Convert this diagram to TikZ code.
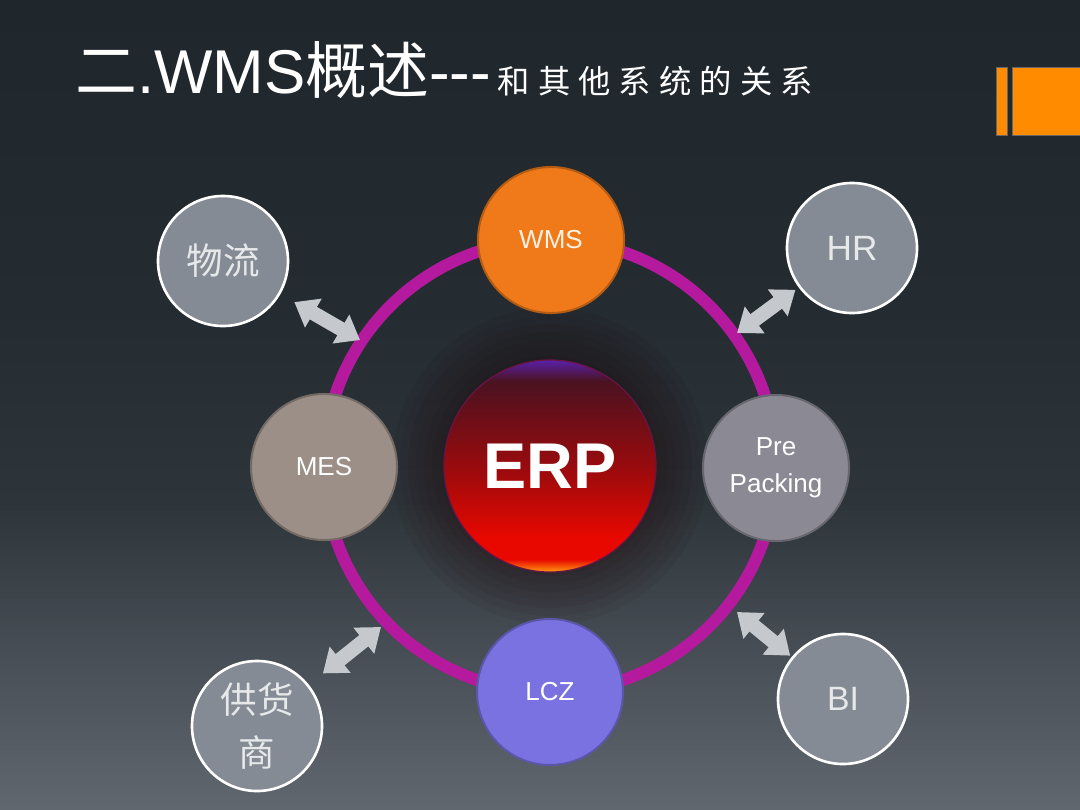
\documentclass[tikz,border=0pt]{standalone}
\usepackage{fontspec}
\setmainfont{Liberation Sans}
\newfontfamily\cjk{Noto Sans CJK SC}
\usepackage{tikz}
\usetikzlibrary{arrows.meta, calc}
\usepackage{xcolor}

\definecolor{bgtop}{HTML}{1F262C}
\definecolor{bgdark}{HTML}{242B31}
\definecolor{bgmid}{HTML}{2D343A}
\definecolor{bglow}{HTML}{464D54}
\definecolor{bgbot}{HTML}{60676E}
\definecolor{erporange}{HTML}{FF9A10}
\definecolor{erpred}{HTML}{E80800}
\definecolor{erpmid}{HTML}{A00A0C}
\definecolor{erpdark}{HTML}{4A1220}
\definecolor{erppurple}{HTML}{5A20A8}
\definecolor{ringmag}{HTML}{B51A9E}
\definecolor{wmsorange}{HTML}{F07A1A}
\definecolor{lczblue}{HTML}{7A72E0}
\definecolor{mestaupe}{HTML}{9C8F87}
\definecolor{pregray}{HTML}{8B8A94}
\definecolor{outerfill}{HTML}{848B94}
\definecolor{outertext}{HTML}{E6E8EA}
\definecolor{arrowgray}{HTML}{C5C9CD}
\definecolor{barorange}{HTML}{FF8C00}

\pgfdeclareverticalshading{slidebg}{100bp}{color(0bp)=(bgbot); color(25bp)=(bgbot);
  color(35bp)=(bglow); color(44bp)=(bgmid); color(56bp)=(bgdark); color(75bp)=(bgtop); color(100bp)=(bgtop)}
\pgfdeclareverticalshading{erpball}{100bp}{color(0bp)=(erporange); color(25bp)=(erporange);
  color(28bp)=(erpred); color(33bp)=(erpred); color(48bp)=(erpmid); color(70bp)=(erpdark);
  color(75bp)=(erppurple); color(100bp)=(erppurple)}

\tikzset{
  hub/.style={circle, minimum size=3.65cm, inner sep=0pt, align=center,
    font=\fontsize{18.5}{26}\selectfont, line width=0.05cm},
  outer/.style={circle, minimum size=3.25cm, inner sep=0pt, align=center,
    fill=outerfill, draw=white, line width=0.065cm, text=outertext},
  linkarrow/.style={{Triangle[width=0.8cm,length=0.55cm]}-{Triangle[width=0.8cm,length=0.55cm]},
    line width=0.36cm, draw=arrowgray}
}

\begin{document}
\begin{tikzpicture}[x=0.025cm, y=0.025cm]
  % slide background
  \shade[shading=slidebg] (0,0) rectangle (1080,-810);
  \useasboundingbox (0,0) rectangle (1080,-810);
  \fill[barorange, draw=black!60] (996,-67) rectangle (1007,-135);
  \fill[barorange, draw=black!60] (1012,-67) rectangle (1082,-135);

  % title
  \node[anchor=base west, inner sep=0pt, text=white, font=\fontsize{44}{44}\selectfont]
    (title) at (75,-93) {{\cjk 二}.WMS{\cjk 概述}\hbox{-}\hbox{-}\hbox{-}};
  \node[anchor=base west, inner sep=0pt, text=white,
    font=\cjk\fontsize{23}{23}\selectfont\addfontfeature{LetterSpace=25}]
    (subtitle) at ([xshift=0.15cm]title.base east) {和其他系统的关系};

  % hub and ring
  \coordinate (hubc) at (550,-466);
  \foreach \r in {2.75,2.95,...,4.0}
    \fill[black!60!red!30!black, opacity=0.05] (hubc) circle (\r cm);
  \draw[ringmag, line width=0.3cm] (hubc) circle (5.65cm);
  \node[circle, minimum size=5.3cm, inner sep=0pt, shading=erpball, draw=erpdark!70!ringmag,
    line width=0.03cm, text=white, font=\bfseries\fontsize{46}{46}\selectfont] (erp) at (hubc) {ERP};

  \node[hub, fill=wmsorange, draw=wmsorange!75!black, text=white!90!orange] (wms) at (551,-240) {WMS};
  \node[hub, fill=lczblue, draw=lczblue!75!black, text=white] (lcz) at (550,-692) {LCZ};
  \node[hub, fill=mestaupe, draw=mestaupe!75!black, text=white] (mes) at (324,-467) {MES};
  \node[hub, fill=pregray, draw=pregray!75!black, text=white] (pre) at (776,-468) {Pre\\Packing};

  % outer systems
  \node[outer, font=\cjk\fontsize{26}{27}\selectfont] (wl) at (223,-261) {物流};
  \node[outer, font=\fontsize{25}{25}\selectfont] (hr) at (852,-248) {HR};
  \node[outer, font=\fontsize{24}{24}\selectfont] (bi) at (843,-699) {BI};
  \node[outer, font=\cjk\fontsize{26}{38}\selectfont] (gh) at (257,-726) {供货\\商};

  % links to the ring
  \coordinate (pNW) at (360,-340);
  \coordinate (pNE) at (737,-333);
  \coordinate (pSE) at (737,-612);
  \coordinate (pSW) at (381,-627);
  \foreach \o/\p/\s in {wl/pNW/0.4, hr/pNE/0.1, bi/pSE/0.05, gh/pSW/0.45}
    \draw[linkarrow, shorten <=\s cm] (\o) -- (\p);
\end{tikzpicture}
\end{document}
